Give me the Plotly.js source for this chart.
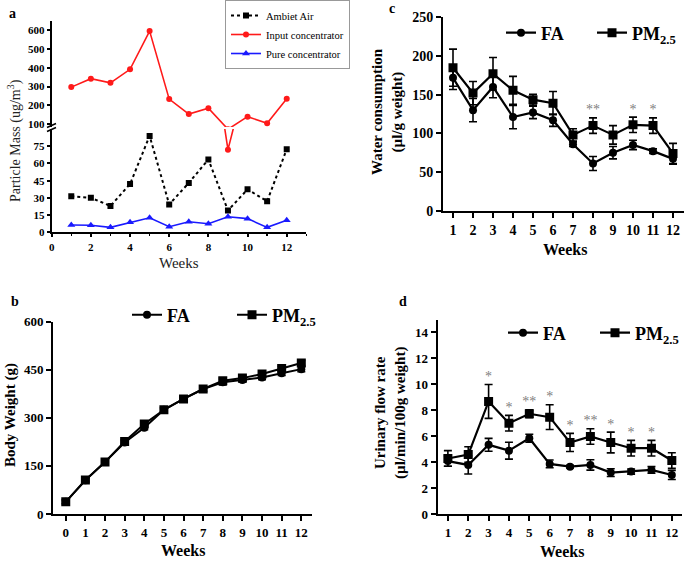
<!DOCTYPE html>
<html>
<head>
<meta charset="utf-8">
<script src="https://cdn.plot.ly/plotly-3.0.1.min.js"></script>
<style>html,body{margin:0;padding:0;background:#fff}#chart{width:685px;height:563px}
#chart text{-webkit-font-smoothing:antialiased;font-smooth:always}</style>
</head>
<body>
<div id="chart"></div>
<script>
// ---- Panel a: particle mass ----
const weeksA = [1,2,3,4,5,6,7,8,9,10,11,12];
const ambientAir = [31.5, 30, 23, 42, 84, 24.3, 43, 63.5, 19, 37.4, 27, 72.4];
const inputConc = [297, 342, 320, 392, 596, 233, 153, 184, 72, 139, 104, 235];
const pureConc = [6.3, 6.1, 4.3, 8.7, 12.7, 4.9, 9.2, 7.5, 13.6, 11.9, 4.3, 10.4];

// ---- Panel b: body weight ----
const weeksB = [0,1,2,3,4,5,6,7,8,9,10,11,12];
const bwFA = [38, 105, 162, 223, 269, 325, 359, 390, 411, 418, 426, 439, 452];
const bwPM = [38, 106, 162, 226, 281, 325, 359, 390, 416, 424, 437, 454, 471];
const bwErr = [6, 6, 6, 6, 6, 6, 6, 7, 8, 7, 7, 7, 8];

// ---- Panel c: water consumption ----
const weeksC = [1,2,3,4,5,6,7,8,9,10,11,12];
const wcFA = [171.7, 130, 160, 121, 127, 117, 86, 61, 75, 85, 77, 67];
const wcFAerr = [15, 15, 14, 15, 8, 8, 3, 9, 8, 6, 3, 7];
const wcPM = [184.8, 152, 177, 155.6, 143.5, 139, 98, 110, 98, 111, 110, 74];
const wcPMerr = [24, 15, 21, 18, 7, 15, 8, 10, 12, 10, 10, 13];
const wcStars = ['', '', '', '', '', '', '', '**', '', '*', '*', ''];

// ---- Panel d: urinary flow rate ----
const weeksD = [1,2,3,4,5,6,7,8,9,10,11,12];
const ufFA = [4.1, 3.8, 5.35, 4.9, 5.86, 3.88, 3.67, 3.8, 3.21, 3.29, 3.42, 3.03];
const ufFAerr = [0.4, 0.7, 0.5, 0.65, 0.3, 0.3, 0.1, 0.4, 0.3, 0.2, 0.25, 0.35];
const ufPM = [4.3, 4.6, 8.69, 7.02, 7.74, 7.48, 5.53, 5.99, 5.53, 5.09, 5.09, 4.14];
const ufPMerr = [0.6, 0.6, 1.3, 0.6, 0.3, 0.95, 0.7, 0.6, 0.8, 0.6, 0.6, 0.6];
const ufStars = ['', '', '*', '*', '**', '*', '*', '**', '*', '*', '*', ''];

const W = 685, H = 563;
const SERIF = 'Liberation Serif';
const dx = (a, b) => [a / W, b / W];
const dy = (top, bottom) => [1 - bottom / H, 1 - top / H];
const px = v => v / W;
const py = v => 1 - v / H;

function ax(extra, fsize, tlen) {
  return Object.assign({
    showline: true, linecolor: 'black', linewidth: 2,
    ticks: 'outside', ticklen: tlen || 5, tickwidth: 2, tickcolor: 'black',
    showgrid: false, zeroline: false, fixedrange: true, automargin: false,
    tickfont: {family: SERIF, size: fsize, color: 'black', weight: 'bold'}
  }, extra);
}

const errStyle = arr => ({type: 'data', array: arr, visible: true, color: 'black', thickness: 1.6, width: 4});
const starFont = () => ({family: SERIF, size: 14, color: '#808080'});

const traces = [
  // panel a
  {x: weeksA, y: ambientAir, xaxis: 'x', yaxis: 'y', mode: 'lines+markers', name: 'Ambiet Air',
   line: {color: 'black', dash: 'dot', width: 2}, marker: {symbol: 'square', size: 6, color: 'black'}, legend: 'legend'},
  {x: weeksA, y: inputConc, xaxis: 'x', yaxis: 'y2', mode: 'lines+markers', name: 'Input concentrator',
   line: {color: '#ff1a1a', width: 1.6}, marker: {symbol: 'circle', size: 6, color: '#ff1a1a'}, legend: 'legend'},
  {x: weeksA, y: pureConc, xaxis: 'x', yaxis: 'y', mode: 'lines+markers', name: 'Pure concentrator',
   line: {color: '#1a1aff', width: 1.6}, marker: {symbol: 'triangle-up', size: 7, color: '#1a1aff'}, legend: 'legend'},
  {x: weeksA, y: inputConc, xaxis: 'x', yaxis: 'y', mode: 'lines+markers', showlegend: false,
   line: {color: '#ff1a1a', width: 1.6}, marker: {symbol: 'circle', size: 6, color: '#ff1a1a'}, hoverinfo: 'skip'},

  // panel b
  {x: weeksB, y: bwFA, xaxis: 'x2', yaxis: 'y3', mode: 'lines+markers', name: 'FA', legend: 'legend2',
   line: {color: 'black', width: 2}, marker: {symbol: 'circle', size: 8, color: 'black'}, error_y: errStyle(bwErr)},
  {x: weeksB, y: bwPM, xaxis: 'x2', yaxis: 'y3', mode: 'lines+markers', name: 'PM<sub>2.5</sub>', legend: 'legend2',
   line: {color: 'black', width: 2}, marker: {symbol: 'square', size: 9, color: 'black'}, error_y: errStyle(bwErr)},

  // panel c
  {x: weeksC, y: wcFA, xaxis: 'x3', yaxis: 'y4', mode: 'lines+markers', name: 'FA', legend: 'legend3',
   line: {color: 'black', width: 2.2}, marker: {symbol: 'circle', size: 8, color: 'black'}, error_y: errStyle(wcFAerr)},
  {x: weeksC, y: wcPM, xaxis: 'x3', yaxis: 'y4', mode: 'lines+markers', name: 'PM<sub>2.5</sub>', legend: 'legend3',
   line: {color: 'black', width: 2.2}, marker: {symbol: 'square', size: 9, color: 'black'}, error_y: errStyle(wcPMerr)},
  {x: weeksC, y: wcPM.map((v, i) => v + wcPMerr[i]), xaxis: 'x3', yaxis: 'y4', mode: 'text', text: wcStars,
   textposition: 'top center', textfont: starFont(), showlegend: false, hoverinfo: 'skip', cliponaxis: false},

  // panel d
  {x: weeksD, y: ufFA, xaxis: 'x4', yaxis: 'y5', mode: 'lines+markers', name: 'FA', legend: 'legend4',
   line: {color: 'black', width: 2.2}, marker: {symbol: 'circle', size: 8, color: 'black'}, error_y: errStyle(ufFAerr)},
  {x: weeksD, y: ufPM, xaxis: 'x4', yaxis: 'y5', mode: 'lines+markers', name: 'PM<sub>2.5</sub>', legend: 'legend4',
   line: {color: 'black', width: 2.2}, marker: {symbol: 'square', size: 9, color: 'black'}, error_y: errStyle(ufPMerr)},
  {x: weeksD, y: ufPM.map((v, i) => v + ufPMerr[i]), xaxis: 'x4', yaxis: 'y5', mode: 'text', text: ufStars,
   textposition: 'top center', textfont: starFont(), showlegend: false, hoverinfo: 'skip', cliponaxis: false}
];

const bigLegend = (x, y, ew) => ({
  orientation: 'h', x: x, y: y, xanchor: 'left', yanchor: 'middle', bgcolor: 'rgba(0,0,0,0)',
  font: {family: SERIF, size: 18, color: 'black', weight: 'bold'}, itemwidth: 30, entrywidth: ew, entrywidthmode: 'pixels'
});

const ann = (text, x, y, size, opts) => Object.assign({
  text: text, xref: 'paper', yref: 'paper', x: px(x), y: py(y), showarrow: false,
  xanchor: 'center', yanchor: 'middle', font: {family: SERIF, size: size, color: 'black', weight: 'bold'}
}, opts || {});

const layout = {
  width: W, height: H, margin: {l: 0, r: 0, t: 0, b: 0, autoexpand: false}, paper_bgcolor: 'white', plot_bgcolor: 'rgba(0,0,0,0)',
  showlegend: true,
  // a
  xaxis: ax({domain: dx(51.7, 306.3), range: [0, 13], anchor: 'y', tickvals: [0,2,4,6,8,10,12],
             minor: {dtick: 1, ticks: 'outside', ticklen: 2, tickwidth: 1.5, tickcolor: 'black'}}, 11, 3),
  yaxis: ax({domain: dy(129, 232.3), range: [0, 90], anchor: 'x', tickvals: [0,15,30,45,60,75]}, 11, 3),
  yaxis2: ax({domain: dy(21, 127), range: [84, 650], anchor: 'x', tickvals: [100,200,300,400,500,600]}, 11, 3),
  // b
  xaxis2: ax({domain: dx(53, 311.7), range: [-0.65, 12.53], anchor: 'y3', dtick: 1, tick0: 0}, 13),
  yaxis3: ax({domain: dy(321.7, 514), range: [0, 600], anchor: 'x2', dtick: 150}, 13),
  // c
  xaxis3: ax({domain: dx(443, 684), range: [0.5, 12.55], anchor: 'y4', dtick: 1, tick0: 0}, 14),
  yaxis4: ax({domain: dy(17.3, 210.7), range: [0, 250], anchor: 'x3', dtick: 50}, 14),
  // d
  xaxis4: ax({domain: dx(437.7, 682), range: [0.5, 12.5], anchor: 'y5', dtick: 1, tick0: 0}, 13),
  yaxis5: ax({domain: dy(319.5, 514.3), range: [0, 15], anchor: 'x4', tickvals: [0,2,4,6,8,10,12,14]}, 13),

  legend: {x: px(225), y: 1, xanchor: 'left', yanchor: 'top', bgcolor: 'white', bordercolor: '#999', borderwidth: 1,
           font: {family: SERIF, size: 10.5, color: 'black'}, itemwidth: 30, tracegroupgap: 0},
  legend2: bigLegend(px(127), py(315), 60),
  legend3: bigLegend(px(501), py(33), 46),
  legend4: bigLegend(px(503), py(333), 47),

  annotations: [
    ann('a', 12, 14, 14),
    ann('b', 15, 301, 14),
    ann('c', 392, 8, 14),
    ann('d', 403, 301, 14),
    ann('Particle Mass (ug/m<sup>3</sup>)', 14, 141, 14, {textangle: -90, font: {family: SERIF, size: 14, color: '#222'}}),
    ann('Weeks', 179, 263, 15, {font: {family: SERIF, size: 15, color: '#222'}}),
    ann('Body Weight (g)', 10, 415, 15, {textangle: -90}),
    ann('Weeks', 183, 550, 16),
    ann('Water consumption<br>(µl/g weight)', 387, 111, 15, {textangle: -90}),
    ann('Weeks', 565, 249, 16),
    ann('Urinary flow rate<br>(µl/min/100g weight)', 390, 413, 15, {textangle: -90}),
    ann('Weeks', 562, 551, 16)
  ],
  shapes: [
    {type: 'line', xref: 'paper', yref: 'paper', x0: px(47), y0: py(127.5), x1: px(56), y1: py(123.5), line: {color: 'black', width: 1.5}},
    {type: 'line', xref: 'paper', yref: 'paper', x0: px(47), y0: py(131.5), x1: px(56), y1: py(127.5), line: {color: 'black', width: 1.5}}
  ]
};

Plotly.newPlot('chart', traces, layout, {staticPlot: true, displayModeBar: false});
</script>
</body>
</html>
